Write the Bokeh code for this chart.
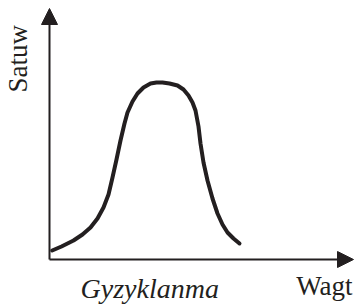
from math import pi
from bokeh.plotting import figure
from bokeh.models import Range1d, Arrow, NormalHead, Label
from bokeh.embed import file_html
from bokeh.resources import INLINE

# Curve (temperature vs. rate, arbitrary units)
temperature = [2.7, 12, 24, 33, 41, 48, 54, 59, 63, 67, 71, 75, 78, 83, 88, 94, 101, 107, 113, 120, 128, 134, 139, 143, 146, 149, 151, 154, 158, 163, 168, 173, 178, 184, 190]
rate = [9, 13, 19, 25, 32, 41, 52, 65, 82, 100, 119, 136, 147, 158, 166, 172, 176, 177, 177, 176, 174, 170, 164, 157, 149, 133, 116, 97, 79, 61, 46, 35, 27, 21, 16]

y_title = "Satuw"
x_title = "Wagt"
caption = "Gyzyklanma"

p = figure(width=358, height=305, output_backend="svg", toolbar_location=None,
           x_range=Range1d(-49, 309), y_range=Range1d(-46, 259),
           min_border=0)
p.axis.visible = False
p.grid.visible = False
p.outline_line_color = None
p.background_fill_color = "white"
p.border_fill_color = "white"

p.add_layout(Arrow(end=NormalHead(size=16, fill_color="#231f20", line_color="#231f20", line_width=1),
                   x_start=0, y_start=0, x_end=0, y_end=251,
                   line_color="#231f20", line_width=2))
p.add_layout(Arrow(end=NormalHead(size=16, fill_color="#231f20", line_color="#231f20", line_width=1),
                   x_start=0, y_start=0, x_end=304, y_end=0,
                   line_color="#231f20", line_width=2))

p.line(temperature, rate, line_color="#231f20", line_width=4,
       line_join="round", line_cap="round")

font = "'Liberation Serif', 'Times New Roman', serif"
p.add_layout(Label(x=-32, y=167, text=y_title, angle=pi/2, text_font=font,
                   text_font_size="27px", text_align="left",
                   text_baseline="middle", text_color="#231f20"))
p.add_layout(Label(x=303, y=-26, text=x_title, text_font=font,
                   text_font_size="27px", text_align="right",
                   text_baseline="middle", text_color="#231f20"))
p.add_layout(Label(x=31, y=-28.5, text=caption, text_font=font,
                   text_font_style="italic",
                   text_font_size="28px", text_align="left",
                   text_baseline="middle", text_color="#231f20"))

open("out.html", "w").write(file_html(p, INLINE))
